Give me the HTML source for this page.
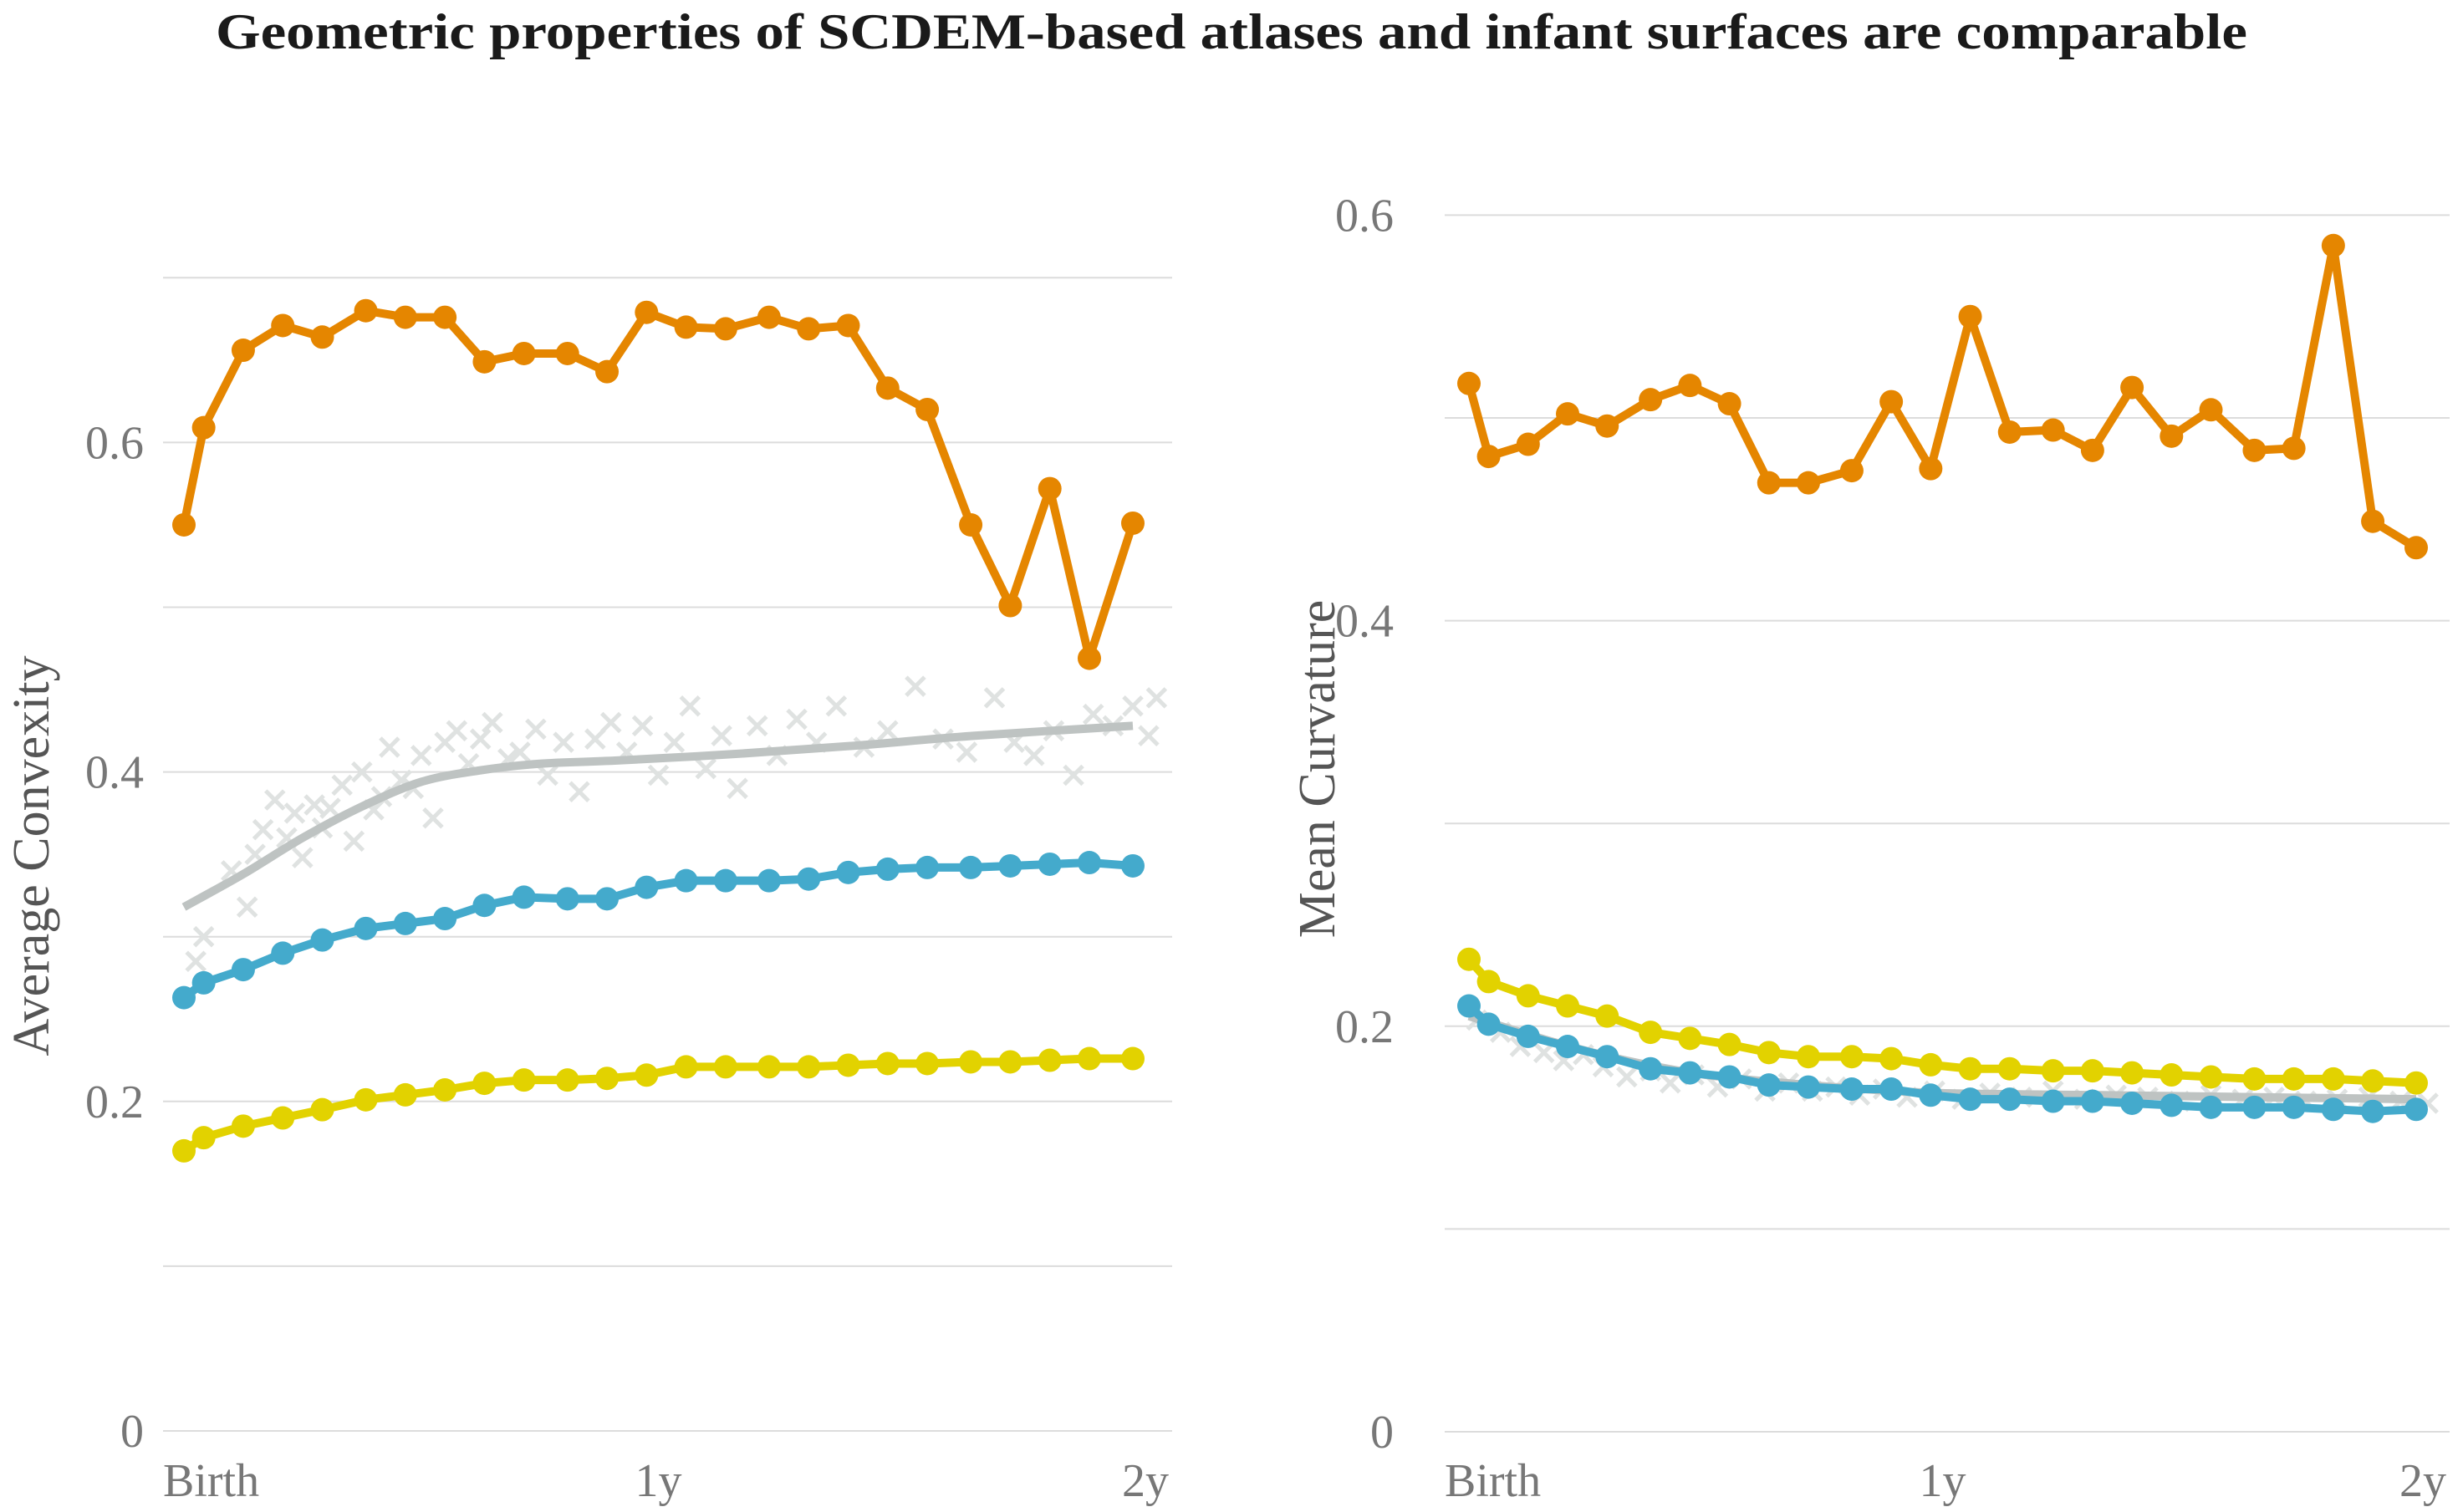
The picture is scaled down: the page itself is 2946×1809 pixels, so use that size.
<!DOCTYPE html>
<html><head><meta charset="utf-8"><style>
html,body{margin:0;padding:0;background:#fff;}
svg{display:block;}
</style></head><body>
<svg id="chart" width="2946" height="1809" viewBox="0 0 2946 1809" xmlns="http://www.w3.org/2000/svg">
<text x="1473" y="58" text-anchor="middle" font-family="Liberation Serif, serif" font-weight="bold" font-size="60" fill="#1a1a1a" textLength="2430" lengthAdjust="spacingAndGlyphs">Geometric properties of SCDEM-based atlases and infant surfaces are comparable</text>
<g id="left"></g>
<g id="right"></g>
</svg>
<script>
const ages = [0,0.5,1.5,2.5,3.5,4.6,5.6,6.6,7.6,8.6,9.7,10.7,11.7,12.7,13.7,14.8,15.8,16.8,17.8,18.8,19.9,20.9,21.9,22.9,24];
const xTickLabels = ["Birth","1y","2y"];
// Left panel: Average Convexity
const convOrange = [0.550,0.609,0.656,0.671,0.664,0.680,0.676,0.676,0.649,0.654,0.654,0.643,0.679,0.670,0.669,0.676,0.669,0.671,0.633,0.620,0.550,0.501,0.572,0.469,0.551];
const convBlue = [0.263,0.272,0.280,0.290,0.298,0.305,0.308,0.311,0.319,0.324,0.323,0.323,0.330,0.334,0.334,0.334,0.335,0.339,0.341,0.342,0.342,0.343,0.344,0.345,0.343];
const convYellow = [0.170,0.178,0.185,0.190,0.195,0.201,0.204,0.207,0.211,0.213,0.213,0.214,0.216,0.221,0.221,0.221,0.221,0.222,0.223,0.223,0.224,0.224,0.225,0.226,0.226];
const convFitAges = [0,1.5,3,4.5,6,7.5,9,11,14,17,20,24];
const convFit = [0.318,0.338,0.360,0.379,0.394,0.401,0.405,0.407,0.411,0.416,0.422,0.428];
const convScatterAges = [0.3,0.5,1.2,1.6,1.8,2.0,2.3,2.6,2.8,3.0,3.3,3.5,3.7,4.0,4.3,4.5,4.8,5.0,5.2,5.5,5.8,6.0,6.3,6.6,6.9,7.2,7.5,7.8,8.2,8.5,8.9,9.2,9.6,10.0,10.4,10.8,11.2,11.6,12.0,12.4,12.8,13.2,13.6,14.0,14.5,15.0,15.5,16.0,16.5,17.2,17.8,18.5,19.2,19.8,20.5,21.0,21.5,22.0,22.5,23.0,23.5,24.0,24.4,24.6];
const convScatter = [0.285,0.300,0.340,0.318,0.350,0.365,0.383,0.360,0.375,0.348,0.380,0.366,0.378,0.392,0.358,0.400,0.377,0.385,0.415,0.395,0.390,0.410,0.372,0.418,0.425,0.405,0.420,0.430,0.408,0.412,0.426,0.398,0.418,0.388,0.420,0.430,0.412,0.428,0.398,0.418,0.440,0.402,0.422,0.390,0.428,0.410,0.432,0.418,0.440,0.415,0.425,0.452,0.420,0.412,0.445,0.418,0.410,0.425,0.398,0.435,0.428,0.440,0.422,0.445];
// Right panel: Mean Curvature
const curvOrange = [0.517,0.481,0.487,0.502,0.496,0.509,0.516,0.507,0.468,0.468,0.474,0.508,0.475,0.550,0.493,0.494,0.484,0.515,0.491,0.504,0.484,0.485,0.585,0.449,0.436];
const curvYellow = [0.233,0.222,0.215,0.210,0.205,0.197,0.194,0.191,0.187,0.185,0.185,0.184,0.181,0.179,0.179,0.178,0.178,0.177,0.176,0.175,0.174,0.174,0.174,0.173,0.172];
const curvBlue = [0.210,0.201,0.195,0.190,0.185,0.179,0.177,0.175,0.171,0.170,0.169,0.169,0.166,0.164,0.164,0.163,0.163,0.162,0.161,0.160,0.160,0.160,0.159,0.158,0.159];
const curvFitAges = [0,2,4,6,8,10,12,16,20,24];
const curvFit = [0.205,0.193,0.183,0.176,0.172,0.169,0.167,0.166,0.165,0.164];
const curvScatterAges = [0.2,0.8,1.3,1.9,2.4,2.9,3.4,4.0,4.6,5.1,5.7,6.3,6.9,7.5,8.1,8.7,9.3,9.9,10.5,11.1,11.8,12.5,13.2,14.0,14.8,15.6,16.4,17.2,18.0,18.8,19.6,20.4,21.2,22.0,22.8,23.6,24.3];
const curvScatter = [0.203,0.197,0.190,0.187,0.183,0.186,0.180,0.175,0.178,0.172,0.176,0.170,0.174,0.168,0.172,0.168,0.170,0.166,0.169,0.165,0.168,0.164,0.167,0.165,0.168,0.164,0.166,0.165,0.163,0.166,0.164,0.165,0.163,0.164,0.165,0.163,0.162];

const NS = "http://www.w3.org/2000/svg";
const COL = {orange:"#E58600", blue:"#44AACC", yellow:"#E2D200", fit:"#BEC3C2", cross:"#dfe2e1"};
function mk(tag, attrs, parent){const e=document.createElementNS(NS,tag);for(const k in attrs)e.setAttribute(k,attrs[k]);parent.appendChild(e);return e;}
function smooth(pts){
  let d=`M${pts[0][0]},${pts[0][1]}`;
  for(let i=0;i<pts.length-1;i++){
    const p0=pts[Math.max(0,i-1)],p1=pts[i],p2=pts[i+1],p3=pts[Math.min(pts.length-1,i+2)];
    const c1x=p1[0]+(p2[0]-p0[0])/6,c1y=p1[1]+(p2[1]-p0[1])/6;
    const c2x=p2[0]-(p3[0]-p1[0])/6,c2y=p2[1]-(p3[1]-p1[1])/6;
    d+=`C${c1x},${c1y} ${c2x},${c2y} ${p2[0]},${p2[1]}`;
  }
  return d;
}

function panel(g, cfg){
  const xS = a => cfg.x0 + (a/24)*(cfg.x1-cfg.x0);
  const yS = v => cfg.y0 - v*cfg.pxPerUnit;
  cfg.grid.forEach(v=>{
    const l=mk("line",{x1:cfg.gx0,x2:cfg.gx1,y1:yS(v),y2:yS(v),stroke:"#dcdcdc","stroke-width":2},g);
    
    
  });
  cfg.yTicks.forEach((v,i)=>{
    const t=mk("text",{x:cfg.ylabX,y:yS(v)+19,"text-anchor":"end","font-family":"Liberation Serif, serif","font-size":56,fill:"#777"},g);
    t.textContent=cfg.yTickLabels[i];
    
    
  });
  const xt=[[cfg.gx0,"start",0],[xS(12),"middle",1],[cfg.gx1-4,"end",2]];
  xt.forEach(([x,anc,i])=>{
    const t=mk("text",{x:x,y:1790,"text-anchor":anc,"font-family":"Liberation Serif, serif","font-size":56,fill:"#777"},g);
    t.textContent=xTickLabels[i];
    
    
  });
  const yt=mk("text",{x:0,y:0,transform:`translate(${cfg.titleX},${cfg.titleY}) rotate(-90)`,"text-anchor":"middle","font-family":"Liberation Serif, serif","font-size":62,fill:"#555"},g);
  yt.textContent=cfg.title;
  
  
  cfg.sAges.forEach((a,i)=>{
    const cx=xS(a), cy=yS(cfg.sVals[i]), s=11;
    const p=mk("path",{d:`M${cx-s},${cy-s}L${cx+s},${cy+s}M${cx+s},${cy-s}L${cx-s},${cy+s}`,stroke:COL.cross,"stroke-width":5,fill:"none"},g);
    
    
  });
  const fp=mk("path",{d:smooth(cfg.fAges.map((a,i)=>[xS(a),yS(cfg.fVals[i])])),fill:"none",stroke:COL.fit,"stroke-width":10,"stroke-linejoin":"round"},g);
  
  
  cfg.series.forEach(([vals,col,name])=>{
    const pl=mk("polyline",{points:ages.map((a,i)=>xS(a)+","+yS(vals[i])).join(" "),fill:"none",stroke:col,"stroke-width":10,"stroke-linejoin":"round"},g);
    
    
    ages.forEach((a,i)=>{
      const c=mk("circle",{cx:xS(a),cy:yS(vals[i]),r:14,fill:col},g);
      
      
    });
  });
}
panel(document.getElementById("left"),{
  x0:220,x1:1355,gx0:195,gx1:1402,y0:1712,pxPerUnit:1971,
  grid:[0,0.1,0.2,0.3,0.4,0.5,0.6,0.7], yTicks:[0,0.2,0.4,0.6], yTickLabels:["0","0.2","0.4","0.6"],
  ylabX:172,title:"Average Convexity",titleX:58,titleY:1024,
  sAges:convScatterAges,sVals:convScatter,fAges:convFitAges,fVals:convFit,
  series:[[convOrange,COL.orange,"atlas-a"],[convBlue,COL.blue,"atlas-b"],[convYellow,COL.yellow,"atlas-c"]]
});
panel(document.getElementById("right"),{
  x0:1757,x1:2890,gx0:1728,gx1:2930,y0:1713,pxPerUnit:2426,
  grid:[0,0.1,0.2,0.3,0.4,0.5,0.6], yTicks:[0,0.2,0.4,0.6], yTickLabels:["0","0.2","0.4","0.6"],
  ylabX:1667,title:"Mean Curvature",titleX:1596,titleY:920,
  sAges:curvScatterAges,sVals:curvScatter,fAges:curvFitAges,fVals:curvFit,
  series:[[curvOrange,COL.orange,"atlas-a"],[curvYellow,COL.yellow,"atlas-c"],[curvBlue,COL.blue,"atlas-b"]]
});
</script>
</body></html>
